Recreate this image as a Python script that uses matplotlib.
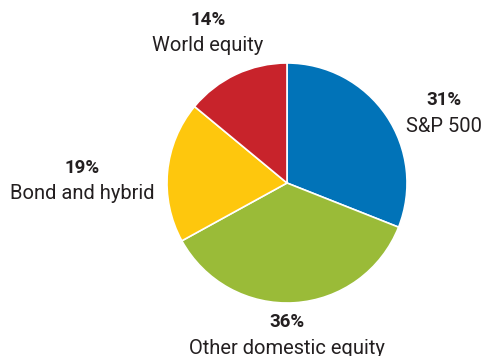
import matplotlib.pyplot as plt

labels = ["S&P 500", "Other domestic equity", "Bond and hybrid", "World equity"]
shares = [31, 36, 19, 14]
colors = ["#0173b8", "#9abb38", "#fec70d", "#c8232b"]

# label anchor points in pie units (radius = 1)
label_x = [1.31, 0.0, -1.71, -0.66]
label_y = [0.69, -1.16, 0.125, 1.36]

plt.rcParams["font.family"] = ["Roboto", "DejaVu Sans"]

fig = plt.figure(figsize=(4.89, 3.56), dpi=100)
ax = fig.add_axes([167 / 489, 53 / 356, 240 / 489, 240 / 356])

ax.pie(shares, colors=colors, startangle=90, counterclock=False, radius=1,
       wedgeprops=dict(edgecolor="white", linewidth=1.2))
ax.set_xlim(-1, 1)
ax.set_ylim(-1, 1)
ax.set_aspect("equal")
ax.axis("off")

for name, val, x, y in zip(labels, shares, label_x, label_y):
    ax.text(x, y, f"{val}%", ha="center", va="center", fontsize=13.5,
            fontweight="bold", color="#231f20", clip_on=False)
    ax.text(x, y - 0.215, name, ha="center", va="center", fontsize=14.5,
            color="#231f20", clip_on=False)

fig.savefig("out.png", dpi=100)
